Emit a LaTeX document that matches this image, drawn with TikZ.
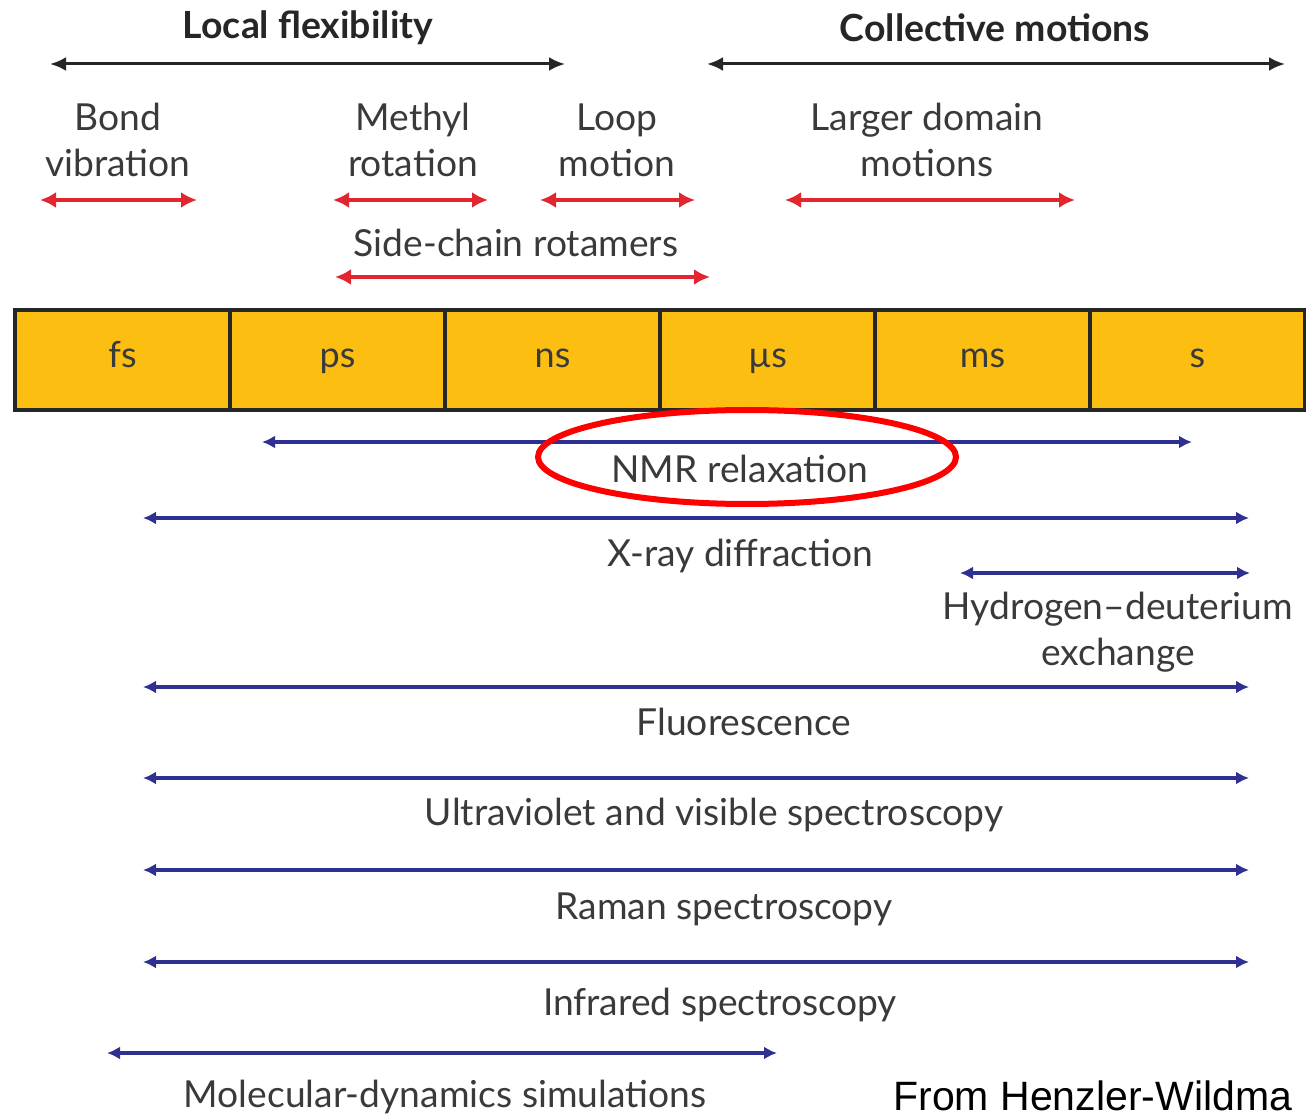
\documentclass[tikz,border=0pt]{standalone}
\usepackage{fontspec}
\setmainfont{Lato}
\newfontfamily\creditfont{Liberation Sans}
\definecolor{tsgold}{RGB}{252,190,17}
\definecolor{tsblue}{RGB}{46,49,146}
\definecolor{tsred}{RGB}{226,38,48}
\definecolor{tsgray}{RGB}{58,58,58}
\usetikzlibrary{arrows.meta,positioning,shapes.geometric}

\begin{document}
\begin{tikzpicture}[x=0.5pt,y=-0.5pt,
  lbl/.style={font=\fontsize{18.6}{23}\selectfont,text=tsgray,align=center,inner sep=0pt},
  head/.style={font=\fontsize{18.7}{23}\selectfont\bfseries,text=black!85,inner sep=0pt},
  scalebox/.style={draw=black!85,line width=2pt,fill=tsgold,minimum width=107.5pt,
    minimum height=50pt,outer sep=0pt,font=\fontsize{18}{21}\selectfont,text=tsgray,
    text height=12pt,text depth=4pt},
  blackarr/.style={<->,>={Latex[length=8pt,width=7pt]},draw=black!85,line width=1.5pt},
  redarr/.style={<->,>={Latex[length=8pt,width=8pt]},draw=tsred,line width=1.6pt},
  bluearr/.style={<->,>={Latex[length=6.5pt,width=6.5pt]},draw=tsblue,line width=1.8pt}
]
  \useasboundingbox (0,0) rectangle (1306,1117);
  \clip (0,0) rectangle (1306,1117);
  % Headings
  \node[head] (lfhead) at (308,28) {Local flexibility};
  \node[head] (cmhead) at (995,28) {Collective motions};
  \coordinate (lfL) at (50,64);  \coordinate (lfR) at (565,64);
  \coordinate (cmL) at (707,64); \coordinate (cmR) at (1285,64);
  \draw[blackarr] (lfL) -- (lfR);
  \draw[blackarr] (cmL) -- (cmR);
  % Motions
  \node[lbl] (bondlbl) at (118,140) {Bond\\vibration};
  \node[lbl] (methyllbl) at (413,140) {Methyl\\rotation};
  \node[lbl] (looplbl) at (617,140) {Loop\\motion};
  \node[lbl] (domainlbl) at (927,140) {Larger domain\\motions};
  \node[lbl] (sidelbl) at (516,243) {Side-chain rotamers};
  \coordinate (bondL) at (40,200);    \coordinate (bondR) at (197,200);
  \coordinate (methylL) at (333,200); \coordinate (methylR) at (488,200);
  \coordinate (loopL) at (540,200);   \coordinate (loopR) at (695,200);
  \coordinate (domainL) at (785,200); \coordinate (domainR) at (1075,200);
  \coordinate (sideL) at (335,277);   \coordinate (sideR) at (710,277);
  \draw[redarr] (bondL) -- (bondR);
  \draw[redarr] (methylL) -- (methylR);
  \draw[redarr] (loopL) -- (loopR);
  \draw[redarr] (domainL) -- (domainR);
  \draw[redarr] (sideL) -- (sideR);
  % Time scale
  \node[scalebox] (fs) at (122.5,360) {fs};
  \node[scalebox,right=0pt of fs] (ps) {ps};
  \node[scalebox,right=0pt of ps] (ns) {ns};
  \node[scalebox,right=0pt of ns] (mus) {µs};
  \node[scalebox,right=0pt of mus] (ms) {ms};
  \node[scalebox,right=0pt of ms] (s) {s};
  % Methods
  \node[lbl] (nmrlbl) at (740,469) {NMR relaxation};
  \node[lbl] (xraylbl) at (740,556) {X-ray diffraction};
  \node[lbl] (hdxlbl) at (1118,632) {Hydrogen–deuterium\\exchange};
  \node[lbl] (fluolbl) at (744,722) {Fluorescence};
  \node[lbl] (uvlbl) at (714,815) {Ultraviolet and visible spectroscopy};
  \node[lbl] (ramanlbl) at (724,909) {Raman spectroscopy};
  \node[lbl] (irlbl) at (720,1005) {Infrared spectroscopy};
  \node[lbl] (mdlbl) at (445,1097) {Molecular-dynamics simulations};
  \coordinate (nmrL) at (262,442);   \coordinate (nmrR) at (1192,442);
  \coordinate (xrayL) at (143,518);  \coordinate (xrayR) at (1249,518);
  \coordinate (hdxL) at (960,573);   \coordinate (hdxR) at (1250,573);
  \coordinate (fluoL) at (143,687);  \coordinate (fluoR) at (1249,687);
  \coordinate (uvL) at (143,778);    \coordinate (uvR) at (1249,778);
  \coordinate (ramanL) at (143,870); \coordinate (ramanR) at (1249,870);
  \coordinate (irL) at (143,962);    \coordinate (irR) at (1249,962);
  \coordinate (mdL) at (107,1053);   \coordinate (mdR) at (777,1053);
  \draw[bluearr] (nmrL) -- (nmrR);
  \draw[bluearr] (xrayL) -- (xrayR);
  \draw[bluearr] (hdxL) -- (hdxR);
  \draw[bluearr] (fluoL) -- (fluoR);
  \draw[bluearr] (uvL) -- (uvR);
  \draw[bluearr] (ramanL) -- (ramanR);
  \draw[bluearr] (irL) -- (irR);
  \draw[bluearr] (mdL) -- (mdR);
  % Highlight
  \node[draw=red,line width=3pt,ellipse,minimum width=209pt,minimum height=47pt] (nmrring) at (747,457) {};
  \node[font=\creditfont\fontsize{20.5}{25}\selectfont,anchor=base west,inner sep=0pt] (credit) at (893,1110) {From Henzler-Wildma};
\end{tikzpicture}
\end{document}
